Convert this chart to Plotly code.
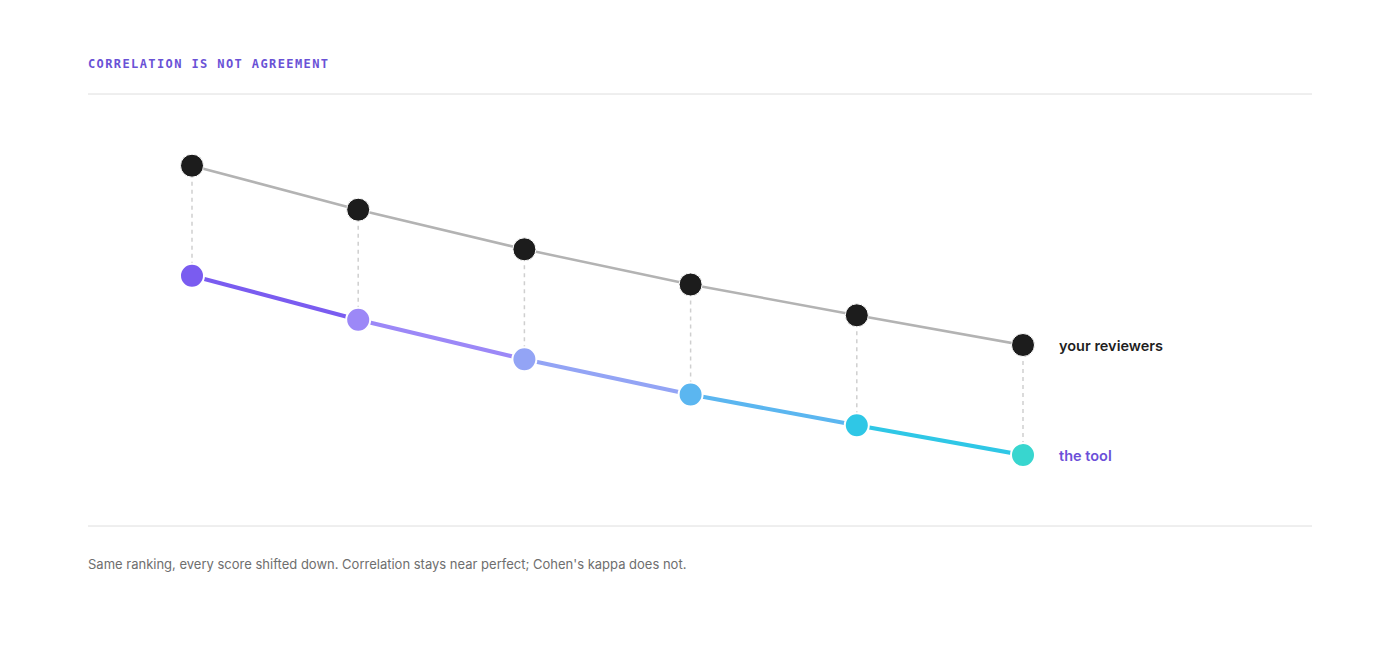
import plotly.graph_objects as go

# Scores per item (same ranking, tool shifted down)
items = [1, 2, 3, 4, 5, 6]
reviewers = [3.63, 3.23, 2.87, 2.55, 2.27, 2.00]
tool = [2.63, 2.23, 1.87, 1.55, 1.27, 1.00]
tool_colors = ["#7a5cf0", "#9c88f7", "#93a4f5", "#5bb6f0", "#2fc7e6", "#38d6cf"]

title_text = "CORRELATION IS NOT AGREEMENT"
note_text = "Same ranking, every score shifted down. Correlation stays near perfect; Cohen's kappa does not."

W, H = 1400, 665
OFF = 8  # page body margin


def px(x):
    return (x - OFF) / W


def py(y):
    return 1 - (y - OFF) / H


fig = go.Figure()

# dashed connectors between the two scores of each item
for x, a, b in zip(items, reviewers, tool):
    fig.add_trace(go.Scatter(
        x=[x, x], y=[a, b], mode="lines",
        line=dict(color="#cfcfcf", width=1.5, dash="4px,4px"),
        hoverinfo="skip", showlegend=False,
    ))

# reviewers line
fig.add_trace(go.Scatter(
    x=items, y=reviewers, mode="lines+markers",
    line=dict(color="#b3b3b3", width=2.5),
    marker=dict(size=23, color="#1c1c1c", line=dict(color="white", width=1)),
    showlegend=False,
))

# tool line, one segment per pair so the colour drifts from purple to teal
for i in range(len(items) - 1):
    fig.add_trace(go.Scatter(
        x=items[i:i + 2], y=tool[i:i + 2], mode="lines",
        line=dict(color=tool_colors[i], width=4),
        hoverinfo="skip", showlegend=False,
    ))
fig.add_trace(go.Scatter(
    x=items, y=tool, mode="markers",
    marker=dict(size=24, color=tool_colors, line=dict(color="white", width=2)),
    showlegend=False,
))

# series labels at the right end
fig.add_annotation(x=items[-1], y=reviewers[-1], text="your reviewers",
                   xref="x", yref="y", xanchor="left", xshift=34, showarrow=False,
                   font=dict(family="Inter", size=14.5, color="#1f1f1f", weight=600))
fig.add_annotation(x=items[-1], y=tool[-1], text="the tool",
                   xref="x", yref="y", xanchor="left", xshift=34, showarrow=False,
                   font=dict(family="Inter", size=14.5, color="#6b4fd8", weight=600))

# header and footer
fig.add_annotation(x=px(88), y=py(64), xref="paper", yref="paper", xshift=-2,
                   text=f'<span style="letter-spacing:1.4px">{title_text}</span>',
                   xanchor="left", yanchor="middle", showarrow=False,
                   font=dict(family="DejaVu Sans Mono", size=12, color="#6a52d6", weight="bold"))
fig.add_annotation(x=px(88), y=py(564), xref="paper", yref="paper", xshift=-2,
                   text=note_text, xanchor="left", yanchor="middle", showarrow=False,
                   font=dict(family="Inter", size=13, color="#6e6e6e"))

for ly in (94, 526):
    fig.add_shape(type="line", xref="paper", yref="paper",
                  x0=px(88), x1=px(1312), y0=py(ly), y1=py(ly),
                  line=dict(color="#dedede", width=1))

fig.update_layout(
    width=W, height=H,
    margin=dict(l=0, r=0, t=0, b=0),
    paper_bgcolor="white", plot_bgcolor="white",
    xaxis=dict(range=[1 - (192 - OFF) / 166.2, 6 + (W + OFF - 1023) / 166.2],
               visible=False, fixedrange=True),
    yaxis=dict(range=[1 - (H + OFF - 455) / 110, 1 + (455 - OFF) / 110],
               visible=False, fixedrange=True),
)

fig.write_html("out.html")
